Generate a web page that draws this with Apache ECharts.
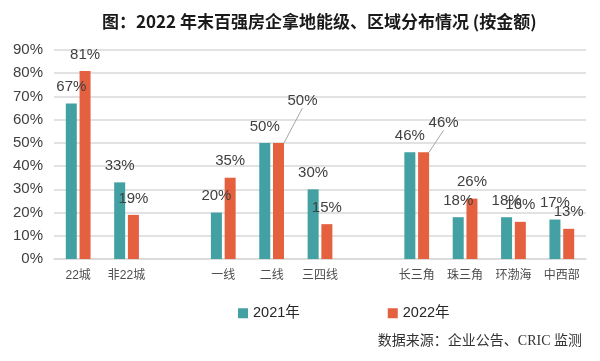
<!DOCTYPE html>
<html>
<head>
<meta charset="utf-8">
<script src="https://cdn.jsdelivr.net/npm/echarts@6/dist/echarts.min.js"></script>
<style>html,body{margin:0;padding:0;background:#fff}#c{width:600px;height:361px}</style>
</head>
<body>
<div id="c"></div>
<script>
const categories = ['22城', '非22城', '', '一线', '二线', '三四线', '', '长三角', '珠三角', '环渤海', '中西部'];
const values2021 = [67, 33, null, 20, 50, 30, null, 46, 18, 18, 17];
const values2022 = [81, 19, null, 35, 50, 15, null, 46, 26, 16, 13];
const seriesNames = ['2021年', '2022年'];
const yTicks = [0, 10, 20, 30, 40, 50, 60, 70, 80, 90];

// label displacement for the two labels drawn with guide lines (2022 series)
const movedLabels2022 = { 4: { dx: 24, dy: -26 }, 7: { dx: 20, dy: -13 } };

const numFont = 'Liberation Sans, Arial, sans-serif';
const cjkFont = 'Liberation Sans, Noto Sans CJK SC, sans-serif';
const serifFont = 'Liberation Serif, Noto Sans CJK SC, serif';

const chart = echarts.init(document.getElementById('c'), null, { renderer: 'canvas' });

function buildData(vals, moved) {
  return vals.map((v, i) => {
    if (moved && moved[i]) {
      return { value: v, labelLine: { show: true, lineStyle: { color: '#a6a6a6', width: 1 } } };
    }
    return v;
  });
}

const labelStyle = {
  show: true,
  position: 'top',
  distance: 9,
  formatter: '{c}%',
  fontFamily: numFont,
  fontSize: 15,
  color: '#404040'
};

chart.setOption({
  animation: false,
  title: {
    text: '图：2022 年末百强房企拿地能级、区域分布情况 (按金额)',
    left: 97,
    top: 8,
    textStyle: { fontFamily: 'Noto Sans CJK SC, sans-serif', fontSize: 17, fontWeight: 'bold', color: '#1a1a1a' }
  },
  grid: { left: 54, right: 14, top: 50, bottom: 102 },
  legend: {
    data: seriesNames,
    left: 233,
    top: 301,
    itemWidth: 10,
    itemHeight: 10,
    itemGap: 88,
    icon: 'rect',
    textStyle: { fontFamily: 'Liberation Sans, Noto Sans CJK SC, sans-serif', fontSize: 14.5, color: '#262626' }
  },
  xAxis: {
    type: 'category',
    data: categories,
    axisLine: { lineStyle: { color: '#d9d9d9', width: 1.5 } },
    axisTick: { show: false },
    axisLabel: { fontFamily: cjkFont, fontSize: 12, color: '#4d4d4d', margin: 11, interval: 0 }
  },
  yAxis: {
    type: 'value',
    min: 0,
    max: 90,
    interval: 10,
    axisLine: { show: false },
    axisTick: { show: false },
    splitLine: { lineStyle: { color: '#d9d9d9', width: 1.5 } },
    axisLabel: {
      formatter: v => (yTicks.indexOf(v) >= 0 ? v + '%' : ''),
      fontFamily: numFont, fontSize: 15, color: '#404040', margin: 11
    }
  },
  series: [
    {
      name: seriesNames[0],
      type: 'bar',
      data: buildData(values2021, null),
      barWidth: 11,
      barGap: '25%',
      itemStyle: { color: '#43a0a3' },
      label: labelStyle
    },
    {
      name: seriesNames[1],
      type: 'bar',
      data: buildData(values2022, movedLabels2022),
      barWidth: 11,
      itemStyle: { color: '#e4603f' },
      label: labelStyle,
      labelLayout: function (p) {
        const m = movedLabels2022[p.dataIndex];
        return m ? { dx: m.dx, dy: m.dy } : {};
      }
    }
  ],
  graphic: [
    {
      type: 'text',
      right: 18,
      top: 334,
      style: {
        text: '数据来源：企业公告、CRIC 监测',
        fontFamily: serifFont,
        fontSize: 14,
        fill: '#333'
      }
    }
  ]
});
</script>
</body>
</html>
